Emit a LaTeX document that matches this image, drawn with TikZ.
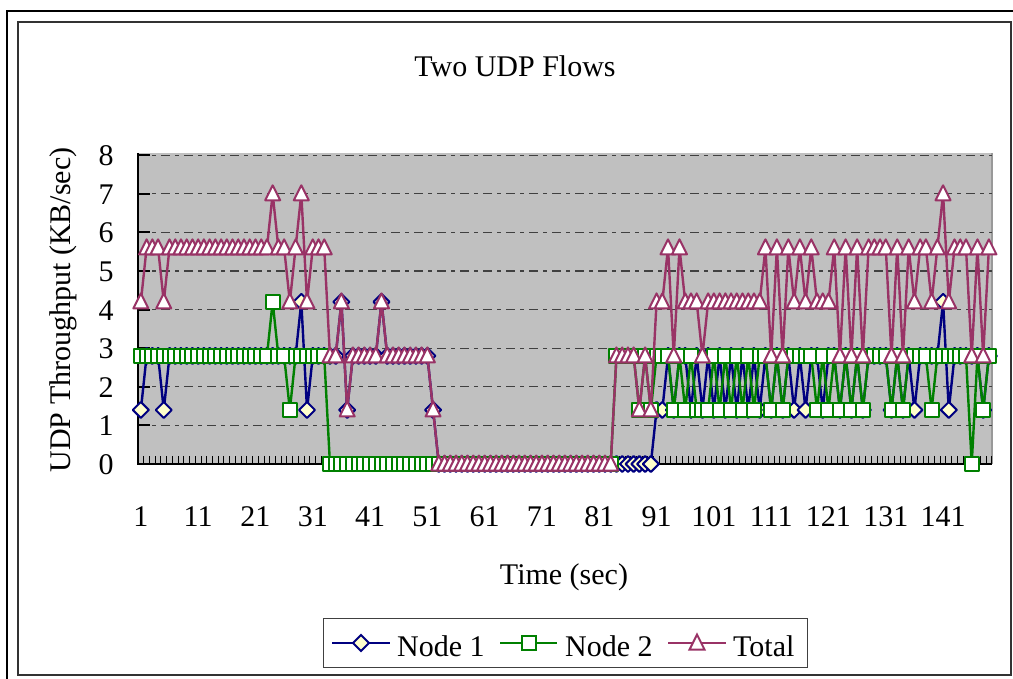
\documentclass[tikz,border=0pt]{standalone}
\usepackage{fontspec}
\setmainfont{Liberation Serif}
\usetikzlibrary{calc}

\definecolor{nodeAcol}{RGB}{0,0,128}
\definecolor{nodeBcol}{RGB}{0,128,0}
\definecolor{totalcol}{RGB}{153,51,102}
\definecolor{diamondfill}{RGB}{255,255,204}
\definecolor{plotgray}{RGB}{192,192,192}

% Excel-like markers (sizes in bp, independent of the picture's axes)
\pgfdeclareplotmark{udpdiamond}{%
  \pgfpathmoveto{\pgfpoint{0bp}{8bp}}%
  \pgfpathlineto{\pgfpoint{8bp}{0bp}}%
  \pgfpathlineto{\pgfpoint{0bp}{-8bp}}%
  \pgfpathlineto{\pgfpoint{-8bp}{0bp}}%
  \pgfpathclose\pgfusepathqfillstroke}
\pgfdeclareplotmark{udpsquare}{%
  \pgfpathrectangle{\pgfpoint{-7bp}{-7bp}}{\pgfpoint{14bp}{14bp}}%
  \pgfusepathqfillstroke}
\pgfdeclareplotmark{udptriangle}{%
  \pgfpathmoveto{\pgfpoint{0bp}{8.5bp}}%
  \pgfpathlineto{\pgfpoint{7.5bp}{-6.5bp}}%
  \pgfpathlineto{\pgfpoint{-7.5bp}{-6.5bp}}%
  \pgfpathclose\pgfusepathqfillstroke}

% throughput per second, in units of 1.4 KB/sec
\def\nodeAvals{{1,2,2,2,1,2,2,2,2,2,
2,2,2,2,2,2,2,2,2,2,
2,2,2,2,2,2,2,2,3,1,
2,2,2,2,2,3,1,2,2,2,
2,2,3,2,2,2,2,2,2,2,
2,1,0,0,0,0,0,0,0,0,
0,0,0,0,0,0,0,0,0,0,
0,0,0,0,0,0,0,0,0,0,
0,0,0,0,0,0,0,0,0,0,
1,1,2,1,2,2,1,2,1,2,
1,2,1,2,1,2,1,2,1,2,
1,2,1,2,1,2,1,2,2,1,
2,2,1,2,1,2,1,2,2,2,
2,1,2,1,2,1,2,2,2,2,
3,1,2,2,2,2,2,1,2}}
\def\nodeBvals{{2,2,2,2,2,2,2,2,2,2,
2,2,2,2,2,2,2,2,2,2,
2,2,2,3,2,2,1,2,2,2,
2,2,2,0,0,0,0,0,0,0,
0,0,0,0,0,0,0,0,0,0,
0,0,0,0,0,0,0,0,0,0,
0,0,0,0,0,0,0,0,0,0,
0,0,0,0,0,0,0,0,0,0,
0,0,0,2,2,2,2,1,2,1,
2,2,2,1,2,1,2,1,1,1,
2,1,2,1,2,1,2,1,2,2,
1,2,1,2,2,2,2,2,1,2,
1,2,1,2,1,2,1,2,2,2,
2,1,2,1,2,2,2,2,1,2,
2,2,2,2,2,0,2,1,2}}

\tikzset{
  chartfont/.style={font=\fontsize{30bp}{36bp}\selectfont, inner sep=0pt},
  axisline/.style={black, line width=2bp},
  gridline/.style={black!75, line width=1.2bp, dash pattern=on 9bp off 5bp on 4bp off 5bp},
  xtick/.style={black, line width=1bp},
  serieslineA/.style={nodeAcol, line width=2.4bp, line join=round},
  serieslineB/.style={nodeBcol, line width=2.4bp, line join=round},
  serieslineT/.style={totalcol, line width=2.4bp, line join=round},
  markA/.style={mark=udpdiamond, mark options={solid, draw=nodeAcol, fill=diamondfill, line width=2bp}},
  markB/.style={mark=udpsquare, mark options={solid, draw=nodeBcol, fill=white, line width=2bp}},
  markT/.style={mark=udptriangle, mark options={solid, draw=totalcol, fill=white, line width=2bp}},
}

\begin{document}
\begin{tikzpicture}[x=1bp, y=-1bp, every node/.style={chartfont}]
\useasboundingbox (0,0) rectangle (1013,679);

% chart frames
\draw[black, line width=2bp] (7,679) -- (7,11) -- (1013,11);
\draw[black!80, line width=1.5bp] (18,22) rectangle (1011,675);

% plot area
\fill[plotgray] (137,153) rectangle (992,464);
\draw[black!40, line width=1.5bp] (992,153) -- (992,464);

% horizontal gridlines, value ticks and labels
\foreach \v in {1,...,8}
  \draw[gridline] (138,{464-38.6*\v}) -- (992,{464-38.6*\v});
\foreach \v in {0,...,8}{
  \draw[axisline] (138,{464-38.6*\v}) -- (150,{464-38.6*\v});
  \node[anchor=base] (ylab\v) at (106,{474.5-38.6*\v}) {\v};
}

% category ticks
\foreach \k in {0,...,149}
  \draw[xtick] ({138+5.73*\k},464) -- ({138+5.73*\k},456);
\draw[axisline] (138,153) -- (138,464) -- (992,464);
\foreach \c in {1,11,...,141}
  \node[anchor=base] (xlab\c) at ({138+(\c-0.5)*5.73},526) {\c};

% data series
\draw[serieslineA, markA] plot[variable=\k, samples at={1,...,149}]
  ({138+(\k-0.5)*5.73},{464-54.04*\nodeAvals[int(\k-1)]});
\draw[serieslineB, markB] plot[variable=\k, samples at={1,...,149}]
  ({138+(\k-0.5)*5.73},{464-54.04*\nodeBvals[int(\k-1)]});
\draw[serieslineT, markT] plot[variable=\k, samples at={1,...,149}]
  ({138+(\k-0.5)*5.73},{464-54.04*(\nodeAvals[int(\k-1)]+\nodeBvals[int(\k-1)])});

% titles
\node[anchor=base] (title) at (515,77) {Two UDP Flows};
\node[anchor=base] (xtitle) at (564,584) {Time (sec)};
\node[anchor=base, rotate=90] (ytitle) at (70,310) {UDP Throughput (KB/sec)};

% legend
\draw[black!75, line width=1bp, fill=white] (323,618) rectangle (807,667);
\coordinate (lgA1) at (332,643); \coordinate (lgA2) at (390,643);
\coordinate (lgB1) at (500,643); \coordinate (lgB2) at (557,643);
\coordinate (lgT1) at (668,643); \coordinate (lgT2) at (726,643);
\draw[serieslineA] (lgA1) -- (lgA2);
\draw[serieslineB] (lgB1) -- (lgB2);
\draw[serieslineT] (lgT1) -- (lgT2);
\path[markA] plot coordinates {($(lgA1)!0.5!(lgA2)$)};
\path[markB] plot coordinates {($(lgB1)!0.5!(lgB2)$)};
\path[markT] plot coordinates {($(lgT1)!0.5!(lgT2)$)};
\node[anchor=base west] (lgtextA) at (397,656) {Node 1};
\node[anchor=base west] (lgtextB) at (565,656) {Node 2};
\node[anchor=base west] (lgtextT) at (733,656) {Total};
\end{tikzpicture}
\end{document}
